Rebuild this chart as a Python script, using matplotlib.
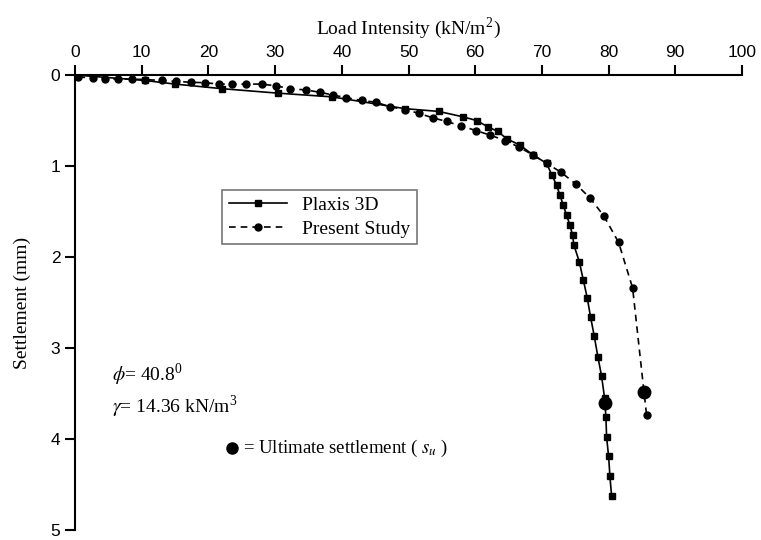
import numpy as np
import matplotlib.pyplot as plt

plt.rcParams['mathtext.fontset'] = 'stix'

# Plaxis 3D (load kN/m2, settlement mm)
plaxis_load = [0, 10.5, 15, 22, 30.5, 38.5, 49.5, 54.5, 58.2, 60.2, 61.9, 63.4, 64.7,
               66.7, 68.7, 70.7, 71.5, 72.2, 72.7, 73.2, 73.7, 74.2, 74.6, 74.8, 75.6,
               76.2, 76.8, 77.3, 77.85, 78.4, 78.95, 79.4, 79.6, 79.7, 80.0, 80.2, 80.45]
plaxis_settle = [0, 0.06, 0.1, 0.15, 0.2, 0.24, 0.37, 0.40, 0.46, 0.50, 0.57, 0.62, 0.70,
                 0.77, 0.88, 0.97, 1.10, 1.21, 1.32, 1.43, 1.54, 1.65, 1.76, 1.87, 2.05,
                 2.25, 2.45, 2.66, 2.87, 3.10, 3.31, 3.55, 3.76, 3.98, 4.19, 4.41, 4.63]

# Present study
present_load = [0.5, 2.7, 4.5, 6.5, 8.6, 10.5, 13, 15.2, 17.4, 19.5, 21.6, 23.6, 25.7,
                28, 30.2, 32.2, 34.7, 36.7, 38.7, 40.7, 43, 45.2, 47.2, 49.5, 51.5, 53.6,
                55.7, 57.9, 60.1, 62.2, 64.5, 66.5, 68.7, 70.7, 72.9, 75.1, 77.2, 79.3,
                81.5, 83.6, 85.3, 85.7]
present_settle = [0.02, 0.035, 0.04, 0.045, 0.045, 0.05, 0.06, 0.07, 0.08, 0.085, 0.1, 0.1,
                  0.1, 0.1, 0.12, 0.15, 0.165, 0.19, 0.22, 0.25, 0.28, 0.30, 0.35, 0.38,
                  0.42, 0.47, 0.51, 0.56, 0.61, 0.66, 0.72, 0.79, 0.88, 0.97, 1.07, 1.2,
                  1.35, 1.55, 1.84, 2.34, 3.48, 3.74]

# ultimate settlement points
ult_load = [79.5, 85.3]
ult_settle = [3.6, 3.48]

fig = plt.figure(figsize=(7.61, 5.40), dpi=100)
ax = fig.add_axes([75/761, 10/540, 667/761, 455/540])

ax.plot(plaxis_load, plaxis_settle, '-', color='black', lw=1.2, marker='s', ms=4.5,
        label='Plaxis 3D')
ax.plot(present_load, present_settle, '--', color='black', lw=1.2, marker='o', ms=5,
        dashes=(4, 3), label='Present Study')
ax.plot(ult_load, ult_settle, 'o', color='black', ms=9, ls='none')

ax.set_xlim(0, 100)
ax.set_ylim(5, 0)
ax.xaxis.tick_top()
ax.xaxis.set_label_position('top')
ax.set_xticks(np.arange(0, 101, 10))
ax.set_yticks(np.arange(0, 6, 1))
ax.spines['right'].set_visible(False)
ax.spines['bottom'].set_visible(False)
for s in ['left', 'top']:
    ax.spines[s].set_linewidth(1.5)
ax.tick_params(direction='out', length=7, width=1.5, labelsize=12.5)
for lab in ax.get_xticklabels() + ax.get_yticklabels():
    lab.set_fontfamily('Liberation Sans')

ax.set_xlabel('Load Intensity (kN/m$^\\mathregular{2}$)', fontsize=14,
              family='Liberation Serif', labelpad=8)
ax.set_ylabel('Settlement (mm)', fontsize=14, family='Liberation Serif', labelpad=14)

leg = ax.legend(loc='upper left', bbox_to_anchor=(0.22, 0.748), frameon=True,
                fancybox=False, edgecolor='#555555', handlelength=3.0,
                prop={'family': 'Liberation Serif', 'size': 14}, borderaxespad=0,
                labelspacing=0.3, borderpad=0.35)
leg.get_frame().set_linewidth(1.2)

ax.text(0.055, 0.34, '$\\phi$= 40.8$^\\mathregular{0}$', transform=ax.transAxes,
        fontsize=14, family='Liberation Serif', va='center')
ax.text(0.055, 0.27, '$\\gamma$= 14.36 kN/m$^\\mathregular{3}$', transform=ax.transAxes,
        fontsize=14, family='Liberation Serif', va='center')
ax.plot([0.236], [0.18], 'o', color='black', ms=8, transform=ax.transAxes)
ax.text(0.252, 0.18, '= Ultimate settlement ( $s_u$ )', transform=ax.transAxes,
        fontsize=13.5, family='Liberation Serif', va='center')

fig.savefig('out.png', dpi=100)
